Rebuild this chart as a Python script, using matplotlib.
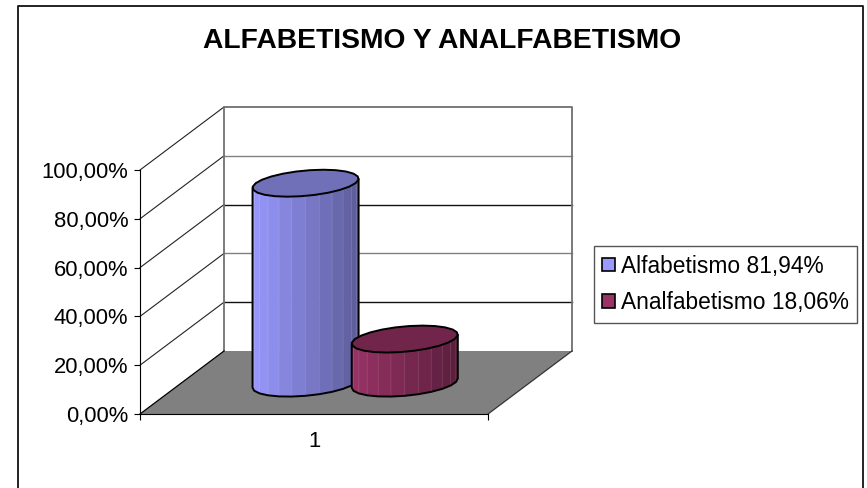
"""
Grafico de cilindros 3D (falso 3D) - alfabetismo y analfabetismo
"""

import numpy as np
import matplotlib
matplotlib.use("Agg")
import matplotlib.pyplot as plt
from matplotlib.lines import Line2D
from matplotlib.patches import Patch, Polygon
from matplotlib.colors import to_rgb

# ============ DATA ============
TITLE = "ALFABETISMO Y ANALFABETISMO"
CATEGORY = "1"
SERIES = ["Alfabetismo 81,94%", "Analfabetismo 18,06%"]
VALUES = [81.94, 18.06]
Y_TICKS = [0, 20, 40, 60, 80, 100]
Y_LABELS = ["0,00%", "20,00%", "40,00%", "60,00%", "80,00%", "100,00%"]

# ============ STYLE ============
W, H = 867, 488
BASE_COLORS = ["#9999FF", "#993366"]
DARK_COLORS = ["#5C5C99", "#5A1E3C"]
TOP_COLORS = ["#7070B8", "#71254A"]
GRID_COLORS = ["#111111", "#808080", "#111111", "#808080"]
FLOOR_COLOR = "#808080"
WALL_COLOR = "#707070"

# oblique depth, in data units of the front plane
DEPTH_X = 84 / 348
DEPTH_Y = 63 / 244 * 100

plt.rcParams["font.family"] = ["Liberation Sans", "DejaVu Sans"]


def proj(x, depth, value):
    return x + depth * DEPTH_X, value + depth * DEPTH_Y


def cylinder(ax, center, value, base, dark, top, zorder):
    """Cylinder standing on the floor, faceted body plus top ellipse"""
    rx, rd, mid = 0.1434, 0.214, 0.49
    t0 = np.arctan2(rd * DEPTH_X * 348, rx * 348)
    angles = np.linspace(t0 + np.pi, t0 + 2 * np.pi, 13)
    xs = center + rx * np.cos(angles)
    ds = mid + rd * np.sin(angles)

    base_rgb, dark_rgb = np.array(to_rgb(base)), np.array(to_rgb(dark))
    lo = xs + ds * DEPTH_X
    for i in range(len(angles) - 1):
        quad = [proj(xs[i], ds[i], 0), proj(xs[i + 1], ds[i + 1], 0),
                proj(xs[i + 1], ds[i + 1], value), proj(xs[i], ds[i], value)]
        f = (0.5 * (lo[i] + lo[i + 1]) - lo.min()) / (lo.max() - lo.min())
        color = base_rgb + (dark_rgb - base_rgb) * f
        streak = color + (1 - color) * 0.12
        ax.add_patch(Polygon(quad, closed=True, fc=color, ec=streak, lw=0.5,
                             zorder=zorder, clip_on=False))

    # body outline
    outline = [proj(x, d, 0) for x, d in zip(xs, ds)]
    outline += [proj(xs[-1], ds[-1], value), proj(xs[0], ds[0], value)]
    ax.add_patch(Polygon(outline, closed=True, fc="none", ec="black", lw=1.4,
                         joinstyle="round", zorder=zorder + 0.1, clip_on=False))

    # top ellipse
    circle = np.linspace(0, 2 * np.pi, 25)
    cap = [proj(center + rx * np.cos(a), mid + rd * np.sin(a), value) for a in circle]
    ax.add_patch(Polygon(cap, closed=True, fc=top, ec="black", lw=1.4,
                         joinstyle="round", zorder=zorder + 0.2, clip_on=False))


fig = plt.figure(figsize=(W / 100, H / 100), dpi=100, facecolor="white")
ax = fig.add_axes([140 / W, (H - 414) / H, 348 / W, 244 / H])
ax.set_xlim(0, 1)
ax.set_ylim(0, 100)
ax.patch.set_visible(False)

for name in ["top", "right"]:
    ax.spines[name].set_visible(False)
ax.spines["left"].set_linewidth(0.8)
ax.spines["bottom"].set_linewidth(0.8)

ax.set_yticks(Y_TICKS)
ax.set_yticklabels(Y_LABELS, fontsize=15.8)
ax.tick_params(axis="y", length=4, width=0.8, pad=4.5)
ax.set_xticks([0, 1])
ax.set_xticklabels(["", ""])
ax.tick_params(axis="x", which="major", length=4, width=0.8)
ax.set_xticks([0.5], minor=True)
ax.set_xticklabels([CATEGORY], minor=True, fontsize=15.8)
ax.tick_params(axis="x", which="minor", length=0, pad=12.5)

# floor
floor = [proj(0, 0, 0), proj(1, 0, 0), proj(1, 1, 0), proj(0, 1, 0)]
ax.add_patch(Polygon(floor, closed=True, fc=FLOOR_COLOR, ec="none", zorder=1, clip_on=False))
ax.plot(*zip(proj(0, 0, 0), proj(0, 1, 0)), color="black", lw=0.9, zorder=1.5, clip_on=False)
ax.plot(*zip(proj(1, 0, 0), proj(1, 1, 0)), color="#333333", lw=0.9, zorder=1.5, clip_on=False)

# walls and gridlines
wall = [proj(0, 1, 0), proj(0, 1, 100), proj(1, 1, 100), proj(1, 1, 0)]
ax.plot(*zip(*wall), color=WALL_COLOR, lw=1.3, zorder=1.2, clip_on=False)
for tick, color in zip(Y_TICKS[1:-1], GRID_COLORS):
    ax.plot(*zip(proj(0, 1, tick), proj(1, 1, tick)), color=color, lw=1.0, zorder=1.1, clip_on=False)
for tick in Y_TICKS[1:]:
    ax.plot(*zip(proj(0, 0, tick), proj(0, 1, tick)), color="#222222", lw=0.8, zorder=1.1, clip_on=False)

# bars sit side by side around the category centre
for i, value in enumerate(VALUES):
    center = 0.5 + (i - 0.5) * 0.285
    cylinder(ax, center, value, BASE_COLORS[i], DARK_COLORS[i], TOP_COLORS[i], 3 + i)

handles = [Patch(fc=c, ec="black", lw=1.2) for c in BASE_COLORS]
leg = fig.legend(handles, SERIES, loc="center left", bbox_to_anchor=(594 / W, 1 - 284.5 / H),
                 fontsize=16.4, frameon=True, fancybox=False, edgecolor="#555555",
                 framealpha=1, handlelength=0.55, handleheight=0.55, handletextpad=0.28,
                 labelspacing=0.6, borderpad=0.36, borderaxespad=0)
leg.get_frame().set_linewidth(1.0)

fig.text(442 / W, 1 - 41 / H, TITLE, ha="center", va="center", fontsize=20.3, fontweight="bold")

# chart frame, its bottom edge falls outside the picture
frame_x = [18 / W, 18 / W, 863 / W, 863 / W]
frame_y = [0, 1 - 6 / H, 1 - 6 / H, 0]
fig.add_artist(Line2D(frame_x, frame_y, color="#111111", lw=1.3))

fig.savefig("out.png", dpi=100)
